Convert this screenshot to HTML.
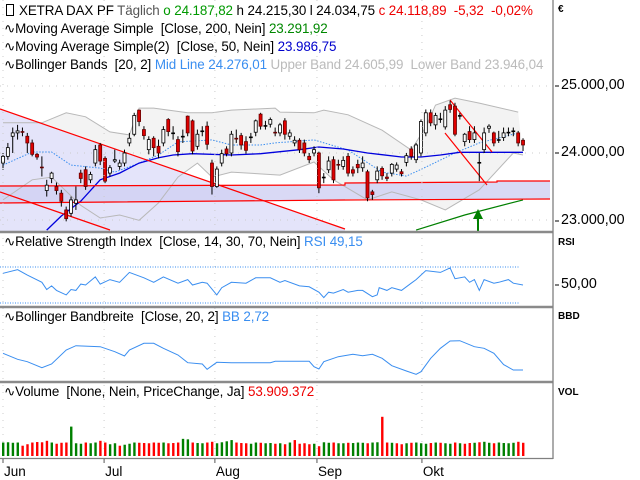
<!DOCTYPE html>
<html><head><meta charset="utf-8"><style>
body{margin:0;background:#fff;width:640px;height:480px;overflow:hidden;font-family:"Liberation Sans",sans-serif}
#wrap{position:relative;width:640px;height:480px}
svg{position:absolute;left:0;top:0}
.lg{position:absolute;left:4px;font-size:13.4px;white-space:nowrap;color:#000;letter-spacing:-0.1px}
.ax{position:absolute;font-size:14.3px;color:#000}
.sm{position:absolute;font-size:10px;color:#000;font-weight:bold}
</style></head><body><div id="wrap">
<svg id="s" width="640" height="480"></svg>
<div class="lg" style="top:3px"><span style="display:inline-block;width:6px;height:10px;border:1px solid #000;margin:0 5px 0 2px;vertical-align:-1px"></span>XETRA DAX PF <span style="color:#555">Täglich</span> <span style="color:#090">o 24.187,82</span> <span>h 24.215,30</span> <span>l 24.034,75</span> <span style="color:#e00">c 24.118,89 &nbsp;-5,32 &nbsp;-0,02%</span></div>
<div class="lg" style="top:21px">∿Moving Average Simple &nbsp;[Close, 200, Nein] <span style="color:#080">23.291,92</span></div>
<div class="lg" style="top:39px">∿Moving Average Simple(2) &nbsp;[Close, 50, Nein] <span style="color:#00c">23.986,75</span></div>
<div class="lg" style="top:57px">∿Bollinger Bands &nbsp;[20, 2] <span style="color:#3a8ef0">Mid Line 24.276,01</span> <span style="color:#bbb">Upper Band 24.605,99 &nbsp;Lower Band 23.946,04</span></div>
<div class="lg" style="top:234px">∿Relative Strength Index &nbsp;[Close, 14, 30, 70, Nein] <span style="color:#3a8ef0">RSI 49,15</span></div>
<div class="lg" style="top:309px">∿Bollinger Bandbreite &nbsp;[Close, 20, 2] <span style="color:#3a8ef0">BB 2,72</span></div>
<div class="lg" style="top:384px">∿Volume &nbsp;[None, Nein, PriceChange, Ja] <span style="color:#e00">53.909.372</span></div>
<div class="sm" style="left:558px;top:4px">€</div>
<div class="ax" style="left:561px;top:77px">25.000,00</div>
<div class="ax" style="left:561px;top:144px">24.000,00</div>
<div class="ax" style="left:561px;top:212px">23.000,00</div>
<div class="sm" style="left:558px;top:237px">RSI</div>
<div class="ax" style="left:561px;top:276px">50,00</div>
<div class="sm" style="left:558px;top:311px">BBD</div>
<div class="sm" style="left:558px;top:387px">VOL</div>
</div>
<script>
const opens=[23850,23950,24250,24300,24320,24250,24150,23980,23790,23440,23620,23500,23400,23150,23100,23250,23700,23750,23600,23850,24120,23920,23700,23880,23800,23850,24150,24280,24640,24350,24050,24220,24100,24150,24500,24300,24200,24250,24550,24480,24100,24320,24400,23850,23500,23850,24060,24000,24220,24260,24170,24230,24310,24580,24400,24430,24310,24300,24480,24250,24150,24190,24150,23950,24000,24000,23630,23750,23900,23830,23800,23950,23750,23830,23780,23720,23420,23600,23770,23640,23700,23760,23720,23860,24060,23900,24000,24300,24600,24420,24500,24390,24720,24700,24560,24170,24320,24200,23850,24050,24370,24300,24200,24230,24300,24320,24300,24190];
const closes=[23950,24080,24300,24330,24310,24150,23980,23940,23780,23520,23700,23440,23280,23020,23300,23300,23620,23500,23680,24050,23880,23580,23780,23900,23850,24000,24220,24560,24470,24260,24200,24080,24000,24350,24320,24300,24020,24250,24300,24030,24280,24330,24130,23500,23760,23990,23990,24280,24210,24120,24040,24240,24480,24400,24410,24500,24300,24420,24280,24300,24190,24050,24000,23900,24050,23480,23640,23880,23600,23820,23890,23700,23700,23780,23850,23330,23380,23730,23660,23620,23830,23820,23690,23960,23950,24120,24470,24600,24450,24560,24510,24640,24650,24280,24560,24280,24200,24300,23860,24300,24400,24150,24200,24300,24310,24330,24150,24120];
const highs=[24000,24150,24380,24420,24380,24300,24200,24000,23950,23600,23720,23560,23450,23200,23350,23500,23750,23800,23720,24120,24150,23950,23820,24050,23900,24050,24300,24600,24650,24400,24250,24250,24200,24400,24520,24400,24250,24350,24560,24500,24350,24400,24470,23900,23800,24050,24100,24330,24350,24300,24250,24300,24500,24600,24480,24530,24380,24450,24520,24350,24250,24220,24200,24000,24100,24020,23700,23950,23950,23900,23950,24000,23800,23900,23950,23750,23450,23800,23800,23700,23850,23860,23760,24000,24100,24150,24500,24650,24650,24600,24600,24700,24780,24750,24600,24300,24400,24400,24000,24380,24430,24320,24330,24380,24380,24380,24330,24220];
const lows=[23750,23900,24000,24200,24250,24000,23950,23900,23650,23350,23550,23380,23200,22980,23050,23150,23550,23450,23550,23800,23820,23550,23650,23850,23750,23800,24100,24250,24400,24200,23980,23950,23920,24100,24250,24200,23950,24150,24250,23980,24050,24250,24050,23380,23480,23800,23950,23950,24150,24050,23990,24150,24250,24350,24350,24380,24250,24250,24200,24200,24100,24000,23950,23850,23950,23400,23550,23700,23550,23750,23750,23650,23650,23700,23720,23280,23300,23550,23600,23580,23650,23720,23650,23800,23900,23850,23950,24250,24400,24350,24450,24350,24600,24250,24500,24100,24150,24150,23580,24000,24300,24100,24150,24180,24250,24250,24100,24030];
const volumes=[55,56,54,55,42,48,55,57,56,62,55,50,54,55,120,52,50,55,52,55,62,55,48,52,42,46,50,55,54,53,52,55,54,55,52,53,55,70,68,55,53,52,55,58,52,56,60,65,55,53,52,50,55,54,52,53,50,52,48,55,65,50,52,48,50,40,56,54,55,52,52,54,53,55,54,52,55,56,160,55,54,52,48,52,54,55,52,50,53,55,54,52,50,55,52,50,53,54,56,58,54,52,55,53,52,54,58,54];
const ma50Idx=[9,12,16,20,24,28,32,35,39,47,53,57,61,65,70,75,82,86,90,94,98,107];
const ma50Val=[22850,23060,23280,23600,23700,23850,23930,23970,23990,23970,23990,24020,24050,24090,24060,24000,23940,23940,23970,24010,24010,24010];
const ma200Idx=[85,95,107];
const ma200Val=[22850,23075,23300];
const midIdx=[0,6,10,14,20,23,28,32,36,43,47,53,56,64,71,78,83,87,93,98,106];
const midVal=[23820,24015,24015,23820,23775,23715,23850,23970,24165,24195,24120,24120,24150,24195,24045,23715,23655,23790,24000,24150,24300];
const upIdx=[0,8,13,17,22,26,28,31,38,43,47,56,57,64,66,71,78,84,87,89,93,98,106];
const upVal=[24450,24450,24600,24540,24315,24270,24670,24670,24600,24600,24640,24670,24610,24600,24640,24570,24340,24045,24390,24715,24820,24745,24610];
const loIdx=[0,6,10,16,20,24,28,32,36,40,43,47,57,64,68,75,80,86,91,98,105,107];
const loVal=[23300,23600,23640,23220,23030,23075,22995,23255,23640,23850,23640,23715,23670,23865,23600,23300,23420,23300,23150,23450,24000,23970];
const rsiIdx=[0,3,5,8,9,10,11,13,14,15,16,17,19,20,22,24,26,29,31,33,36,38,39,41,42,44,45,47,50,52,55,57,58,61,63,65,66,67,68,70,71,73,74,76,77,77.4,79,80,82,84,85,87,90,92,93,95,96,97,98,99,101,102,104,105,107];
const rsiVal=[63,67,61,53,45,49,44,39,45,44,51,50,59,51,56,53,64,58,53,59,52,56,50,53,52,39,47,53,52,58,58,53,55,49,48,42,36,42,41,45,42,44,44,37,39,47,44,47,44,52,56,66,64,69,57,59,53,56,44,56,52,53,56,52,50];
const bbdIdx=[0,3,5,8,10,13,15,20,23,25,26,29,31,33,36,38,41,42,44,47,48,55,56,63,64,65,66,69,72,74,76,78,80,83,85,86,88,90,92,94,97,99,101,103,105,107];
const bbdVal=[4.53,3.88,3.62,2.97,3.37,4.89,5.36,5.25,4.71,4.24,4.89,5.62,5.62,5.08,4.35,3.51,3.37,2.79,3.55,3.51,3.51,3.51,3.66,3.66,3.08,2.83,3.62,4.16,4.42,4.27,4.42,3.99,3.18,2.61,2.25,2.53,3.99,5.08,5.87,5.9,5.25,5.08,4.53,3.3,2.72,2.72];
const monthLabels=["Jun","Jul","Aug","Sep","Okt"];
const monthIdx=[0,20.8,43.6,64.6,86.2];

const NS="http://www.w3.org/2000/svg",S=document.getElementById('s');
const xOf=i=>3+4.86*i;
const yP=p=>153-(p-24000)*0.067;
const yR=r=>285-(r-50)*0.9;
const yB=v=>395-v*9.2;
const yV=v=>456-v*0.245;
function mk(t,a,name,parent){const e=document.createElementNS(NS,t);for(const k in a)e.setAttribute(k,a[k]);


(parent||S).appendChild(e);return e;}
const pts=(ix,vs,f)=>ix.map((i,k)=>xOf(i).toFixed(1)+','+f(vs[k]).toFixed(1)).join(' ');
const defs=mk('defs',{},'defs');const cp=mk('clipPath',{id:'cm'},'clip-main',defs);mk('rect',{x:0,y:0,width:553,height:231},'clip-rect',cp);
const G=mk('g',{'clip-path':'url(#cm)'},'main-panel');
const bb=upIdx.map((i,k)=>xOf(i)+','+yP(upVal[k])).join(' ')+' '+loIdx.slice().reverse().map((i,k)=>{const j=loIdx.length-1-k;return xOf(i)+','+yP(loVal[j]);}).join(' ');
mk('polygon',{points:bb,fill:'#f3f3f3',stroke:'none'},'bollinger-fill',G);
mk('polygon',{points:'0,109 345,229 345,231 0,231',fill:'#e4e4fa'},'channel-fill',G);
mk('polygon',{points:'0,186 345,185 345,183 497,182 497,181 550,181 550,199 345,199 345,200 0,203',fill:'#d0d0f2',opacity:0.8},'support-band-fill',G);
[yP(25000),yP(24000),yP(23000)].forEach(y=>mk('line',{x1:0,x2:553,y1:y,y2:y,stroke:'#ccc','stroke-dasharray':'1,6'},'grid-h',G));
monthIdx.forEach(i=>mk('line',{x1:xOf(i),x2:xOf(i),y1:0,y2:458,stroke:'#ccc','stroke-dasharray':'1,6'},'grid-v'));
mk('polyline',{points:pts(upIdx,upVal,yP),fill:'none',stroke:'#b8b8b8'},'bollinger-upper',G);
mk('polyline',{points:pts(loIdx,loVal,yP),fill:'none',stroke:'#b8b8b8'},'bollinger-lower',G);
mk('polyline',{points:pts(midIdx,midVal,yP),fill:'none',stroke:'#3a8ef0','stroke-dasharray':'1.5,1.5'},'bollinger-mid',G);
mk('polyline',{points:pts(ma50Idx,ma50Val,yP),fill:'none',stroke:'#0000dd','stroke-width':1.3},'ma50-line',G);
mk('polyline',{points:pts(ma200Idx,ma200Val,yP),fill:'none',stroke:'#008000','stroke-width':1.2},'ma200-line',G);
[['0,109 345,229','trendline-upper'],['0,192 110,230','trendline-lower'],['0,186 345,185 345,183 497,182 497,181 550,181','support-line-upper'],['0,203 345,200 550,199','support-line-lower'],['450,100 492,152','oct-trendline-1'],['445,133 487,185','oct-trendline-2']].forEach(a=>mk('polyline',{points:a[0],fill:'none',stroke:'#ff0000','stroke-width':1.2},a[1],G));
mk('line',{x1:478,x2:478,y1:231,y2:214,stroke:'#008000','stroke-width':2},'signal-arrow-shaft',G);
mk('polygon',{points:'473,219 478,209 483,219',fill:'#008000'},'signal-arrow-head',G);
opens.forEach((o,i)=>{const c=closes[i],x=xOf(i),up=c>=o;
mk('line',{x1:x,x2:x,y1:yP(highs[i]),y2:yP(lows[i]),stroke:'#000'},'candle-wick',G);
const t=yP(Math.max(o,c)),b=yP(Math.min(o,c));
mk('rect',{x:x-1.5,y:t,width:3,height:Math.max(b-t,0.8),fill:up?'#fff':'#e00000',stroke:up?'#000':'#600',"stroke-width":0.8},'candle-body',G);});
mk('line',{x1:0,x2:520,y1:yR(70),y2:yR(70),stroke:'#3a8ef0','stroke-dasharray':'1,1.5'},'rsi-70-line');
mk('line',{x1:0,x2:520,y1:yR(30),y2:yR(30),stroke:'#3a8ef0','stroke-dasharray':'1,1.5'},'rsi-30-line');
mk('polyline',{points:pts(rsiIdx,rsiVal,yR),fill:'none',stroke:'#3a8ef0'},'rsi-line');
mk('polyline',{points:pts(bbdIdx,bbdVal,yB),fill:'none',stroke:'#3a8ef0'},'bbd-line');
volumes.forEach((v,i)=>{const up=i==0?true:closes[i]>=closes[i-1];
mk('rect',{x:xOf(i)-1,y:yV(v),width:2.4,height:456-yV(v),fill:up?'#008000':'#ff0000'},'volume-bar');});
[[232],[307],[382]].forEach(a=>mk('line',{x1:0,x2:553,y1:a[0],y2:a[0],stroke:'#8a8a8a','stroke-width':2.5},'panel-separator'));
mk('line',{x1:553,x2:553,y1:0,y2:459,stroke:'#808080','stroke-width':1.3},'right-axis-line');
mk('line',{x1:0,x2:553,y1:458.5,y2:458.5,stroke:'#808080','stroke-width':1.3},'x-axis-line');
[86,153,221,285].forEach(y=>mk('line',{x1:555,x2:559,y1:y,y2:y,stroke:'#000'},'y-tick-mark'));
monthLabels.forEach((m,k)=>{const x=xOf(monthIdx[k]);
mk('line',{x1:x,x2:x,y1:459,y2:463,stroke:'#555'},'x-tick-mark');
const t=mk('text',{x:x+1,y:476,'font-size':13.5,'font-family':'Liberation Sans, sans-serif',fill:'#000'},'x-tick-label');t.textContent=m;});
</script></body></html>
